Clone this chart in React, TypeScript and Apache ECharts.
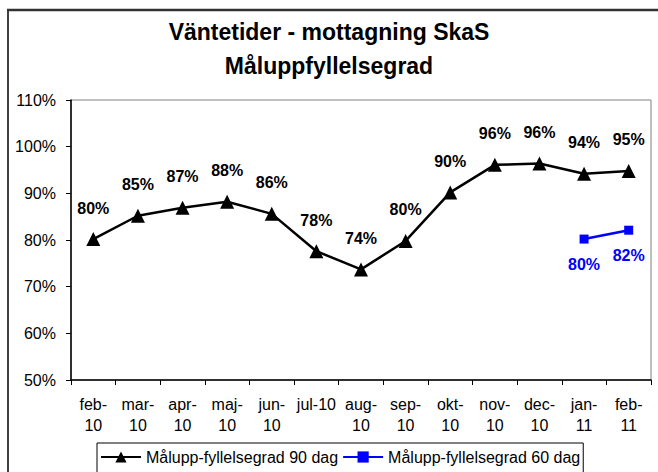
import React, { useEffect, useRef } from "react";
import * as echarts from "echarts";

const categories = [
  "feb-\n10", "mar-\n10", "apr-\n10", "maj-\n10", "jun-\n10", "jul-10", "aug-\n10",
  "sep-\n10", "okt-\n10", "nov-\n10", "dec-\n10", "jan-\n11", "feb-\n11",
];
const series90 = [80.2, 85.2, 86.9, 88.2, 85.6, 77.6, 73.7, 79.8, 90.2, 96.1, 96.4, 94.2, 94.8];
const series60 = [null, null, null, null, null, null, null, null, null, null, null, 80.2, 82.1];
const seriesNames = ["Målupp-fyllelsegrad 90 dag", "Målupp-fyllelsegrad 60 dag"];
const titleText = "Väntetider - mottagning SkaS\nMåluppfyllelsegrad";

const FONT = 'Arial, "Liberation Sans", sans-serif';

export default function App() {
  const ref = useRef<HTMLDivElement>(null);
  useEffect(() => {
    if (!ref.current) return;
    const chart = echarts.init(ref.current, undefined, { renderer: "svg" });
    chart.setOption({
      animation: false,
      backgroundColor: "#ffffff",
      textStyle: { fontFamily: FONT },
      title: {
        text: titleText,
        left: "center",
        top: 10,
        textStyle: { fontSize: 23, fontWeight: "bold", color: "#000", lineHeight: 34, fontFamily: FONT },
      },
      graphic: [
        { type: "line", shape: { x1: 8, y1: 10, x2: 8, y2: 480 }, style: { stroke: "#000", lineWidth: 1.5 } },
        { type: "line", shape: { x1: 7, y1: 10, x2: 660, y2: 10 }, style: { stroke: "#333", lineWidth: 2.5 } },
      ],
      grid: {
        left: 71, top: 100, right: 7, bottom: 92,
        show: true, borderColor: "#808080", borderWidth: 1,
      },
      legend: {
        left: 97, top: 443,
        padding: [6, 3, 8, 3],
        borderColor: "#000", borderWidth: 1,
        itemWidth: 40, itemHeight: 14, itemGap: 4,
        textStyle: { fontSize: 16, color: "#000", fontFamily: FONT },
        data: seriesNames,
      },
      xAxis: {
        type: "category",
        data: categories,
        boundaryGap: true,
        axisLine: { lineStyle: { color: "#000", width: 1.5 } },
        axisTick: { show: true, length: 5, lineStyle: { color: "#000" } },
        axisLabel: { interval: 0, fontSize: 16, color: "#000", lineHeight: 21, margin: 14, fontFamily: FONT },
      },
      yAxis: {
        type: "value",
        min: 50, max: 110, interval: 10,
        axisLine: { show: true, lineStyle: { color: "#000", width: 1.5 } },
        axisTick: { show: true, length: 5, lineStyle: { color: "#000" } },
        splitLine: { show: false },
        axisLabel: { formatter: "{value}%", fontSize: 16, color: "#000", margin: 15, fontFamily: FONT },
      },
      series: [
        {
          name: seriesNames[0],
          type: "line",
          data: series90,
          symbol: "triangle",
          symbolSize: 14,
          lineStyle: { color: "#000", width: 2.5 },
          itemStyle: { color: "#000" },
          label: {
            show: true, position: "top", distance: 16,
            fontSize: 16, fontWeight: "bold", color: "#000", fontFamily: FONT,
            formatter: (p: any) => Math.round(p.value) + "%",
          },
        },
        {
          name: seriesNames[1],
          type: "line",
          data: series60,
          symbol: "rect",
          symbolSize: 9,
          lineStyle: { color: "#0000ff", width: 2.5 },
          itemStyle: { color: "#0000ff" },
          label: {
            show: true, position: "bottom", distance: 13,
            fontSize: 16, fontWeight: "bold", color: "#0000ff", fontFamily: FONT,
            formatter: (p: any) => Math.round(p.value) + "%",
          },
        },
      ],
    });
    return () => chart.dispose();
  }, []);
  return <div ref={ref} style={{ position: "fixed", left: 0, top: 0, width: 658, height: 472 }} />;
}
